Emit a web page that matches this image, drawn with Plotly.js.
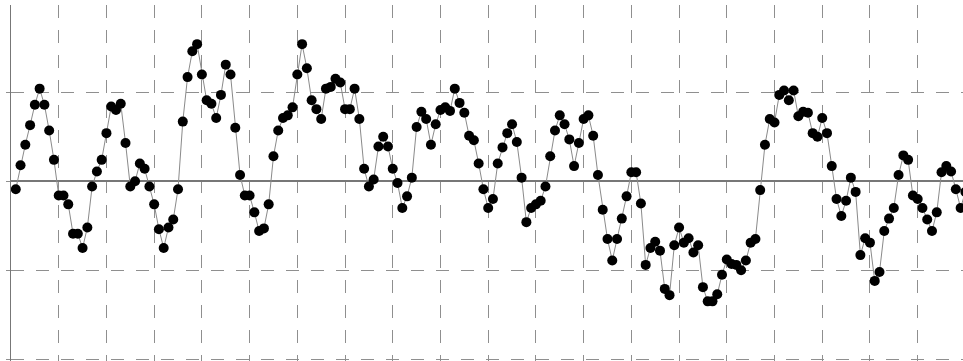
<!DOCTYPE html>
<html>
<head>
<meta charset="utf-8">
<script src="https://cdn.plot.ly/plotly-3.0.1.min.js"></script>
<style>
  html, body { margin: 0; padding: 0; background: #fff; }
  #chart { width: 963px; height: 361px; }
</style>
</head>
<body>
<div id="chart"></div>
<script>
// Signal samples, one per step (step 1 .. 200)
const values = [
  -0.09, 0.18, 0.41, 0.63, 0.86, 1.04, 0.86, 0.57, 0.24, -0.16,
  -0.16, -0.26, -0.59, -0.59, -0.75, -0.52, -0.06, 0.11, 0.24, 0.54,
  0.84, 0.80, 0.87, 0.43, -0.06, 0.00, 0.20, 0.14, -0.06, -0.26,
  -0.54, -0.75, -0.52, -0.43, -0.09, 0.67, 1.17, 1.46, 1.54, 1.20,
  0.91, 0.87, 0.71, 0.97, 1.31, 1.20, 0.60, 0.07, -0.16, -0.16,
  -0.35, -0.56, -0.53, -0.26, 0.28, 0.57, 0.71, 0.74, 0.83, 1.20,
  1.54, 1.27, 0.91, 0.81, 0.70, 1.04, 1.06, 1.15, 1.11, 0.81,
  0.81, 1.04, 0.70, 0.14, -0.06, 0.02, 0.39, 0.50, 0.39, 0.14,
  -0.02, -0.30, -0.17, 0.04, 0.61, 0.78, 0.70, 0.41, 0.64, 0.80,
  0.83, 0.79, 1.04, 0.88, 0.77, 0.51, 0.46, 0.20, -0.09, -0.30,
  -0.20, 0.20, 0.38, 0.54, 0.64, 0.44, 0.04, -0.46, -0.30, -0.26,
  -0.22, -0.06, 0.28, 0.57, 0.74, 0.64, 0.47, 0.17, 0.43, 0.70,
  0.74, 0.51, 0.07, -0.32, -0.65, -0.89, -0.65, -0.42, -0.17, 0.10,
  0.10, -0.25, -0.94, -0.75, -0.68, -0.78, -1.21, -1.28, -0.72, -0.52,
  -0.69, -0.64, -0.80, -0.72, -1.19, -1.35, -1.35, -1.27, -1.05, -0.88,
  -0.93, -0.94, -1.00, -0.89, -0.69, -0.65, -0.10, 0.41, 0.70, 0.66,
  0.97, 1.02, 0.91, 1.02, 0.73, 0.78, 0.77, 0.54, 0.50, 0.71,
  0.54, 0.17, -0.20, -0.39, -0.22, 0.04, -0.12, -0.83, -0.64, -0.69,
  -1.12, -1.02, -0.56, -0.42, -0.30, 0.07, 0.29, 0.24, -0.16, -0.20,
  -0.30, -0.43, -0.56, -0.35, 0.10, 0.17, 0.11, -0.09, -0.30, -0.12
];
const steps = values.map((_, i) => i + 1);

const gridColor = '#8f8f8f';
const gridDash = '13px,12px';

const trace = {
  x: steps,
  y: values,
  type: 'scatter',
  mode: 'lines+markers',
  line: { color: '#8a8a8a', width: 1 },
  marker: { color: '#000', size: 10, symbol: 'circle' },
  hoverinfo: 'x+y'
};

const layout = {
  width: 963,
  height: 361,
  margin: { l: 11, r: 0, t: 5, b: 0, pad: 0 },
  paper_bgcolor: '#fff',
  plot_bgcolor: '#fff',
  showlegend: false,
  xaxis: {
    range: [0, 199.5],
    tick0: 0,
    dtick: 10,
    showticklabels: false,
    ticks: '',
    showgrid: true,
    gridcolor: gridColor,
    gridwidth: 1,
    griddash: gridDash,
    zeroline: false,
    showline: false
  },
  yaxis: {
    range: [-2.02, 1.98],
    tick0: 0,
    dtick: 1,
    showticklabels: false,
    ticks: 'outside',
    ticklen: 4,
    tickcolor: gridColor,
    tickwidth: 1,
    showgrid: true,
    gridcolor: gridColor,
    gridwidth: 1,
    griddash: gridDash,
    zeroline: true,
    zerolinecolor: '#777',
    zerolinewidth: 1.5,
    showline: true,
    linecolor: '#777',
    linewidth: 1.5
  }
};

Plotly.newPlot('chart', [trace], layout, { staticPlot: true, displayModeBar: false });
</script>
</body>
</html>
